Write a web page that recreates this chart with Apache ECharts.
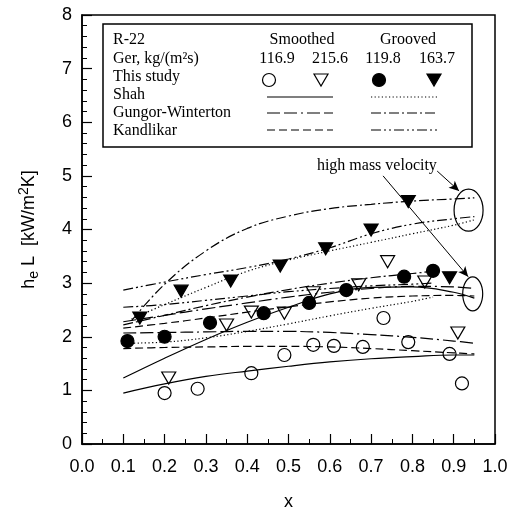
<!DOCTYPE html>
<html>
<head>
<meta charset="utf-8">
<script src="https://cdn.jsdelivr.net/npm/echarts@6/dist/echarts.min.js"></script>
<style>
  html, body { margin: 0; padding: 0; background: #fff; }
  #chart { width: 511px; height: 511px; }
</style>
</head>
<body>
<div id="chart"></div>
<script>
// measured points (this study)
const smooth1169X = [0.20, 0.28, 0.41, 0.49, 0.56, 0.61, 0.68, 0.73, 0.79, 0.89, 0.92];
const smooth1169Y = [0.95, 1.03, 1.32, 1.66, 1.85, 1.83, 1.81, 2.35, 1.90, 1.68, 1.13];
const smooth2156X = [0.21, 0.35, 0.41, 0.49, 0.56, 0.67, 0.74, 0.83, 0.91];
const smooth2156Y = [1.23, 2.22, 2.46, 2.44, 2.82, 2.97, 3.40, 3.02, 2.07];
const groove1198X = [0.11, 0.20, 0.31, 0.44, 0.55, 0.64, 0.78, 0.85];
const groove1198Y = [1.92, 2.00, 2.26, 2.44, 2.63, 2.87, 3.12, 3.23];
const groove1637X = [0.14, 0.24, 0.36, 0.48, 0.59, 0.70, 0.79, 0.89];
const groove1637Y = [2.35, 2.85, 3.04, 3.32, 3.64, 3.99, 4.52, 3.10];

// correlation curves
const xFull = [0.10, 0.20, 0.30, 0.40, 0.50, 0.60, 0.70, 0.80, 0.90, 0.95];
const xShort = [0.10, 0.20, 0.30, 0.40, 0.50, 0.60, 0.70, 0.80, 0.85];
const xLate = [0.12, 0.20, 0.30, 0.40, 0.50, 0.60, 0.70, 0.80, 0.90, 0.95];

const shahS1169 = [0.95, 1.12, 1.26, 1.36, 1.45, 1.53, 1.59, 1.63, 1.66, 1.66];
const shahS2156 = [1.23, 1.60, 1.95, 2.27, 2.55, 2.80, 2.92, 2.93, 2.83, 2.72];
const gwS1169 = [2.07, 2.08, 2.09, 2.10, 2.10, 2.08, 2.04, 1.99, 1.92, 1.88];
const gwS2156 = [2.28, 2.40, 2.52, 2.63, 2.74, 2.83, 2.90, 2.94, 2.93, 2.90];
const kanS1169 = [1.78, 1.80, 1.81, 1.82, 1.82, 1.81, 1.78, 1.74, 1.70, 1.68];
const kanS2156 = [2.16, 2.25, 2.35, 2.46, 2.56, 2.65, 2.72, 2.76, 2.77, 2.76];

const shahG1198 = [1.88, 1.90, 1.98, 2.10, 2.24, 2.39, 2.53, 2.66, 2.74];
const shahG1637 = [2.33, 2.60, 2.92, 3.22, 3.43, 3.60, 3.76, 3.92, 4.08, 4.18];
const gwG1198 = [2.22, 2.40, 2.58, 2.74, 2.88, 3.00, 3.10, 3.18, 3.22];
const gwG1637 = [2.30, 2.98, 3.60, 4.02, 4.25, 4.39, 4.47, 4.53, 4.57, 4.59];
const kanG1198 = [2.55, 2.60, 2.68, 2.76, 2.84, 2.90, 2.95, 2.98, 3.00];
const kanG1637 = [2.87, 3.02, 3.16, 3.29, 3.45, 3.66, 3.92, 4.10, 4.20, 4.24];

const xTicks = ['0.0', '0.1', '0.2', '0.3', '0.4', '0.5', '0.6', '0.7', '0.8', '0.9', '1.0'];

// dash patterns
const SOLID = 'solid';
const DOT = [1.2, 2.4];
const GW_S = [13, 4, 13, 4, 2, 4];
const KAN_S = [8, 4];
const GW_G = [10, 3, 2, 3];
const KAN_G = [10, 3, 2, 3, 2, 3];

const pts = (xs, ys) => xs.map((x, i) => [x, ys[i]]);

const curve = (xs, ys, dash) => ({
  type: 'line',
  data: pts(xs, ys),
  symbol: 'none',
  smooth: 0.4,
  silent: true,
  z: 2,
  lineStyle: { color: '#000', width: 1.2, type: dash }
});

const marks = (xs, ys, symbol, filled) => ({
  type: 'scatter',
  data: pts(xs, ys),
  symbol: symbol,
  symbolRotate: symbol === 'triangle' ? 180 : 0,
  symbolSize: symbol === 'triangle' ? [14, 12] : 13,
  z: 5,
  silent: true,
  itemStyle: {
    opacity: 1,
    color: filled ? '#000' : 'rgba(255,255,255,0)',
    borderColor: '#000',
    borderWidth: 1.2
  }
});

const serif = 'Liberation Serif, Times New Roman, serif';
const sans = 'Liberation Sans, Arial, sans-serif';

const chart = echarts.init(document.getElementById('chart'));

const scatterSmooth = marks(smooth1169X, smooth1169Y, 'circle', false);
scatterSmooth.markLine = {
  silent: true,
  symbol: ['none', 'arrow'],
  symbolSize: [7, 10],
  label: { show: false },
  lineStyle: { color: '#000', width: 1, type: 'solid' },
  data: [
    [{ coord: [0.86, 5.09] }, { coord: [0.913, 4.72] }],
    [{ coord: [0.729, 5.0] }, { coord: [0.935, 3.12] }]
  ]
};

const option = {
  animation: false,
  backgroundColor: '#fff',
  grid: {
    left: 82, top: 15, width: 413, height: 429,
    outerBoundsMode: 'none',
    containLabel: false,
    show: true, borderColor: '#000', borderWidth: 1.5
  },
  xAxis: {
    type: 'value', min: 0, max: 1, interval: 0.1,
    name: 'x', nameLocation: 'middle', nameGap: 49,
    nameTextStyle: { fontFamily: sans, fontSize: 18, color: '#000' },
    axisLine: { lineStyle: { color: '#000', width: 1.5 } },
    axisTick: { inside: true, length: 10, lineStyle: { color: '#000', width: 1.2 } },
    minorTick: { show: true, splitNumber: 2, length: 5, lineStyle: { color: '#000', width: 1 } },
    splitLine: { show: false },
    axisLabel: {
      margin: 14, fontFamily: sans, fontSize: 18, color: '#000',
      formatter: v => xTicks[Math.round(v * 10)]
    }
  },
  yAxis: {
    type: 'value', min: 0, max: 8, interval: 1,
    name: '{a|h}{b|e}{a| L  [kW/m}{c|2}{a|K]}', nameLocation: 'middle', nameGap: 41,
    nameTextStyle: {
      color: '#000',
      rich: {
        a: { fontFamily: sans, fontSize: 18, color: '#000' },
        b: { fontFamily: sans, fontSize: 14, color: '#000', padding: [10, 0, 0, 0] },
        c: { fontFamily: sans, fontSize: 14, color: '#000', padding: [0, 0, 10, 0] }
      }
    },
    axisLine: { lineStyle: { color: '#000', width: 1.5 } },
    axisTick: { inside: true, length: 10, lineStyle: { color: '#000', width: 1.2 } },
    minorTick: { show: true, splitNumber: 5, length: 5, lineStyle: { color: '#000', width: 1 } },
    splitLine: { show: false },
    axisLabel: { margin: 10, fontFamily: sans, fontSize: 18, color: '#000' }
  },
  series: [
    curve(xFull, shahS1169, SOLID),
    curve(xFull, shahS2156, SOLID),
    curve(xFull, gwS1169, GW_S),
    curve(xFull, gwS2156, GW_S),
    curve(xFull, kanS1169, KAN_S),
    curve(xFull, kanS2156, KAN_S),
    curve(xShort, shahG1198, DOT),
    curve(xLate, shahG1637, DOT),
    curve(xShort, gwG1198, GW_G),
    curve(xLate, gwG1637, GW_G),
    curve(xShort, kanG1198, KAN_G),
    curve(xFull, kanG1637, KAN_G),
    scatterSmooth,
    marks(smooth2156X, smooth2156Y, 'triangle', false),
    marks(groove1198X, groove1198Y, 'circle', true),
    marks(groove1637X, groove1637Y, 'triangle', true)
  ]
};

chart.setOption(option);

// legend table and annotations
const txt = (x, y, s, align) => ({
  type: 'text', x: x, y: y, z: 20,
  style: { text: s, font: '16px ' + serif, fill: '#000', align: align || 'left', verticalAlign: 'middle' }
});
const seg = (x1, x2, y, dash) => ({
  type: 'line', z: 20,
  shape: { x1: x1, y1: y, x2: x2, y2: y },
  style: { stroke: '#000', lineWidth: 1.2, lineDash: dash === SOLID ? null : dash }
});
const tri = (cx, cy, filled) => ({
  type: 'polygon', z: 20,
  shape: { points: [[cx - 7, cy - 6], [cx + 7, cy - 6], [cx, cy + 6]] },
  style: { fill: filled ? '#000' : 'none', stroke: '#000', lineWidth: 1.2 }
});
const dot = (cx, cy, filled) => ({
  type: 'circle', z: 20,
  shape: { cx: cx, cy: cy, r: 6.5 },
  style: { fill: filled ? '#000' : 'none', stroke: '#000', lineWidth: 1.2 }
});

const p = c => chart.convertToPixel({ gridIndex: 0 }, c);
const up = p([0.936, 4.36]);
const low = p([0.946, 2.80]);
const lab = p([0.714, 5.18]);

chart.setOption({
  graphic: [
    {
      type: 'rect', z: 19,
      shape: { x: 103, y: 24, width: 369, height: 123 },
      style: { fill: '#fff', stroke: '#000', lineWidth: 1.5 }
    },
    txt(113, 40, 'R-22'),
    txt(113, 59, 'Ger, kg/(m²s)'),
    txt(113, 77, 'This study'),
    txt(113, 95, 'Shah'),
    txt(113, 113, 'Gungor-Winterton'),
    txt(113, 131, 'Kandlikar'),
    txt(302, 40, 'Smoothed', 'center'),
    txt(408, 40, 'Grooved', 'center'),
    txt(277, 59, '116.9', 'center'),
    txt(330, 59, '215.6', 'center'),
    txt(383, 59, '119.8', 'center'),
    txt(437, 59, '163.7', 'center'),
    dot(269, 80, false),
    tri(321, 80, false),
    dot(379, 80, true),
    tri(434, 80, true),
    seg(267, 333, 97, SOLID),
    seg(371, 437, 97, DOT),
    seg(267, 333, 113, GW_S),
    seg(371, 437, 113, GW_G),
    seg(267, 333, 130, KAN_S),
    seg(371, 437, 130, KAN_G),
    {
      type: 'ellipse', z: 20,
      shape: { cx: up[0], cy: up[1], rx: 14.5, ry: 21 },
      style: { fill: 'none', stroke: '#000', lineWidth: 1.2 }
    },
    {
      type: 'ellipse', z: 20,
      shape: { cx: low[0], cy: low[1], rx: 10, ry: 17 },
      style: { fill: 'none', stroke: '#000', lineWidth: 1.2 }
    },
    txt(lab[0], lab[1], 'high mass velocity', 'center')
  ]
});
</script>
</body>
</html>
